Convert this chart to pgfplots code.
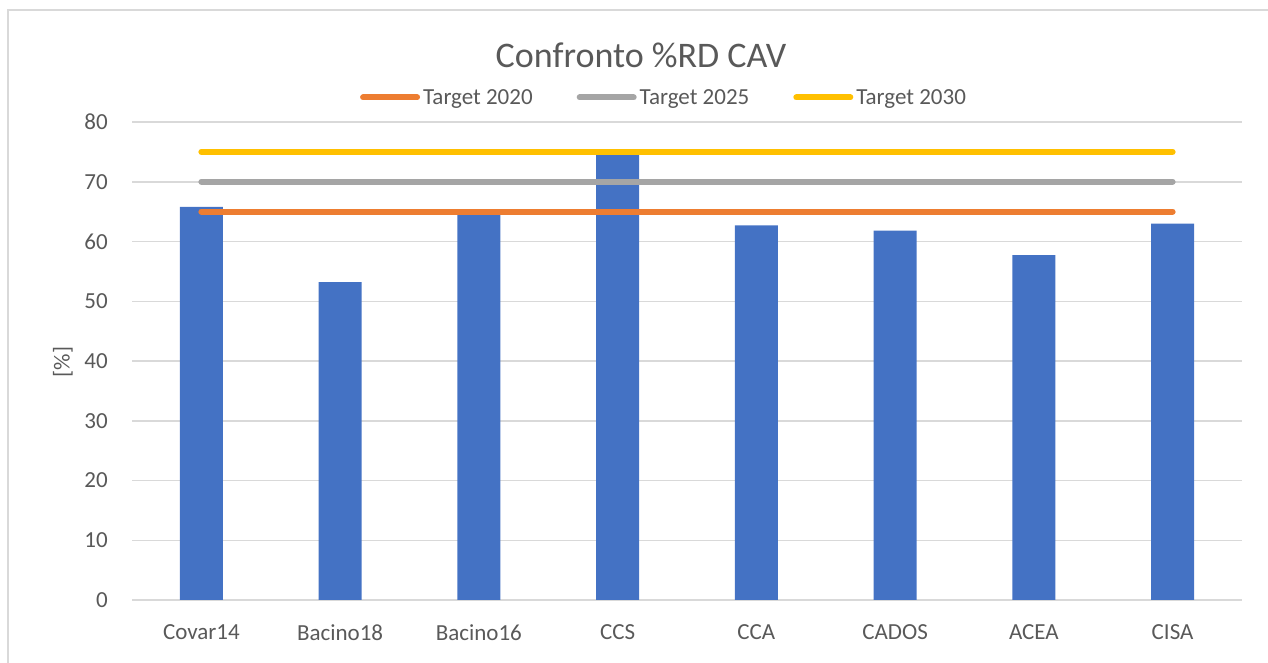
\documentclass[border=0pt]{standalone}
\usepackage{pgfplots}
\pgfplotsset{compat=1.18}
\usepackage{fontspec}
\setmainfont{Carlito}
\definecolor{txt}{HTML}{595959}
\definecolor{barblue}{HTML}{4472C4}
\definecolor{t20}{HTML}{ED7D31}
\definecolor{t25}{HTML}{A5A5A5}
\definecolor{t30}{HTML}{FFC000}
\definecolor{gridc}{HTML}{D9D9D9}
\begin{document}
\begin{tikzpicture}
\path[use as bounding box] (0bp,0bp) rectangle (1268bp,663bp);
\draw[color=gridc, line width=1.5bp] (8bp,0bp) -- (8bp,653bp) -- (1268bp,653bp);
\begin{axis}[
  at={(132bp,63bp)}, anchor=south west,
  scale only axis, width=1110bp, height=478bp,
  xmin=-0.5, xmax=7.5, ymin=0, ymax=80,
  ytick={0,10,...,80},
  xtick={0,...,7},
  xticklabels={Covar14,Bacino18,Bacino16,CCS,CCA,CADOS,ACEA,CISA},
  axis line style={draw=none},
  major tick length=0pt,
  ymajorgrids, grid style={color=gridc, line width=1.5bp},
  /pgf/number format/assume math mode=true,
  ticklabel style={font=\fontsize{23bp}{27bp}\selectfont, text=txt},
  yticklabel style={inner sep=0pt, anchor=east, xshift=-24bp},
  xticklabel style={inner sep=0pt, anchor=north, yshift=-24bp},
  ylabel={[\%]},
  ylabel style={at={(axis description cs:-0.0622,0.498)}, anchor=center, font=\fontsize{23bp}{27bp}\selectfont, text=txt, inner sep=0pt},
  title={Confronto \%RD CAV},
  title style={at={(axis description cs:0.4586,1.127)}, anchor=center, font=\fontsize{36bp}{40bp}\selectfont, text=txt, inner sep=0pt},
  legend columns=3,
  legend style={draw=none, fill=none, at={(axis description cs:0.4784,1.0513)}, anchor=center,
    font=\fontsize{23bp}{27bp}\selectfont, text=txt,
    nodes={inner sep=0pt},
    /tikz/every odd column/.append style={column sep=3bp},
    /tikz/every even column/.append style={column sep=44bp}},
  legend image code/.code={\draw[#1, line width=6bp, line cap=round] (3bp,0bp) -- (57bp,0bp);},
]
\addplot[ybar, bar width=43bp, fill=barblue, draw=none, forget plot]
  coordinates {(0,65.8) (1,53.2) (2,65.0) (3,74.5) (4,62.7) (5,61.8) (6,57.7) (7,63.0)};
\addplot[color=t20, line width=6bp, line cap=round] coordinates {(0,65) (7,65)};
\addlegendentry{Target 2020}
\addplot[color=t25, line width=6bp, line cap=round] coordinates {(0,70) (7,70)};
\addlegendentry{Target 2025}
\addplot[color=t30, line width=6bp, line cap=round] coordinates {(0,75) (7,75)};
\addlegendentry{Target 2030}
\end{axis}
\end{tikzpicture}
\end{document}
